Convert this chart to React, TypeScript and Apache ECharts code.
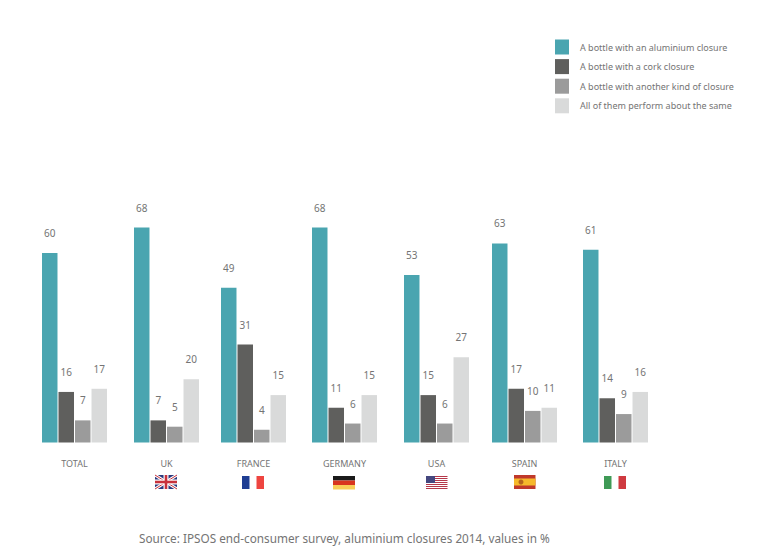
import React, { useEffect, useRef } from "react";
import * as echarts from "echarts";

const countries = ["TOTAL", "UK", "FRANCE", "GERMANY", "USA", "SPAIN", "ITALY"];
const seriesNames = [
  "A bottle with an aluminium closure",
  "A bottle with a cork closure",
  "A bottle with another kind of closure",
  "All of them perform about the same",
];
const aluminium = [60, 68, 49, 68, 53, 63, 61];
const cork = [16, 7, 31, 11, 15, 17, 14];
const other = [7, 5, 4, 6, 6, 10, 9];
const same = [17, 20, 15, 15, 27, 11, 16];
const values = [aluminium, cork, other, same];
const colors = ["#4AA5B0", "#5F5F5D", "#9B9B9B", "#D9DADA"];
const sourceText = "Source: IPSOS end-consumer survey, aluminium closures 2014, values in %";

const groupLefts = [42, 134, 221, 312, 404, 492, 583];
const FONT = "'Noto Sans'";
const TEXT = "#747474";

const r = (x: number, y: number, w: number, h: number, fill: string) => ({
  type: "rect", shape: { x, y, width: w, height: h }, style: { fill },
});
const ln = (x1: number, y1: number, x2: number, y2: number, stroke: string, lineWidth: number) => ({
  type: "line", shape: { x1, y1, x2, y2 }, style: { stroke, lineWidth },
});

function flags() {
  const uk = { type: "group", x: 155, y: 475, children: [
    r(0, 0, 22, 14, "#2B3A7E"),
    ln(0, 0, 22, 14, "#ffffff", 3), ln(22, 0, 0, 14, "#ffffff", 3),
    ln(0, 0, 22, 14, "#C8323C", 1), ln(22, 0, 0, 14, "#C8323C", 1),
    r(8.5, 0, 5, 14, "#ffffff"), r(0, 4.5, 22, 5, "#ffffff"),
    r(9.7, 0, 2.6, 14, "#C8323C"), r(0, 5.7, 22, 2.6, "#C8323C"),
  ] };
  const fr = { type: "group", x: 242, y: 476, children: [
    r(0, 0, 7.5, 13, "#1F3E93"), r(14.5, 0, 7.5, 13, "#EE4540"),
  ] };
  const de = { type: "group", x: 333, y: 476, children: [
    r(0, 0, 22, 4.5, "#1a1a1a"), r(0, 4.5, 22, 4.5, "#D9361F"), r(0, 9, 22, 4.5, "#F9CF58"),
  ] };
  const stripes: any[] = [];
  for (let i = 0; i < 7; i++) stripes.push(r(0, i * 2, 21.5, 1, "#B5384A"));
  const us = { type: "group", x: 426, y: 476, children: [
    ...stripes, r(0, 0, 9, 7, "#45477F"),
  ] };
  const es = { type: "group", x: 514, y: 475, children: [
    r(0, 0, 21.5, 14, "#C0392B"), r(0, 3.5, 21.5, 7, "#F6B92B"),
    { type: "circle", shape: { cx: 7, cy: 7, r: 2.5 }, style: { fill: "#B5651D" } },
  ] };
  const it = { type: "group", x: 604, y: 476, children: [
    r(0, 0, 7.5, 13, "#3F9A56"), r(14.5, 0, 7.5, 13, "#CF3A40"),
  ] };
  return [uk, fr, de, us, es, it];
}

export default function App() {
  const ref = useRef<HTMLDivElement>(null);
  useEffect(() => {
    document.body.style.margin = "0";
    const chart = echarts.init(ref.current!, undefined, { renderer: "svg" });
    const grids = countries.map((_, i) => ({
      left: groupLefts[i], width: 65, top: 189.7, height: 252.8, containLabel: false,
    }));
    const xAxes = countries.map((c, i) => ({
      type: "category", gridIndex: i, data: [c],
      axisLine: { show: false }, axisTick: { show: false },
      axisLabel: { color: TEXT, fontFamily: FONT, fontSize: 9, margin: 16 },
    }));
    const yAxes = countries.map((_, i) => ({
      type: "value", gridIndex: i, min: 0, max: 80, show: false,
    }));
    const series: any[] = [];
    countries.forEach((_, i) => {
      values.forEach((vals, s) => {
        series.push({
          type: "bar", name: seriesNames[s], xAxisIndex: i, yAxisIndex: i,
          data: [vals[i]], barWidth: 15.5, barGap: "6.5%",
          itemStyle: { color: colors[s] },
          label: {
            show: true, position: "top", distance: 15,
            color: TEXT, fontFamily: FONT, fontSize: 10,
          },
        });
      });
    });
    chart.setOption({
      animation: false,
      backgroundColor: "#ffffff",
      grid: grids,
      xAxis: xAxes,
      yAxis: yAxes,
      series,
      legend: {
        orient: "vertical", left: 550, top: 34.5, itemWidth: 14, itemHeight: 15, itemGap: 4.6,
        icon: "rect", data: seriesNames, selectedMode: false,
        textStyle: { color: TEXT, fontFamily: FONT, fontSize: 9, padding: [0, 0, 0, 6] },
      },
      graphic: [
        ...flags(),
        {
          type: "text", x: 139, y: 538,
          style: { text: sourceText, fill: TEXT, font: `11.75px ${FONT}`, textVerticalAlign: "middle" },
        },
      ],
    });
    return () => chart.dispose();
  }, []);
  return <div ref={ref} style={{ width: 764, height: 559 }} />;
}
